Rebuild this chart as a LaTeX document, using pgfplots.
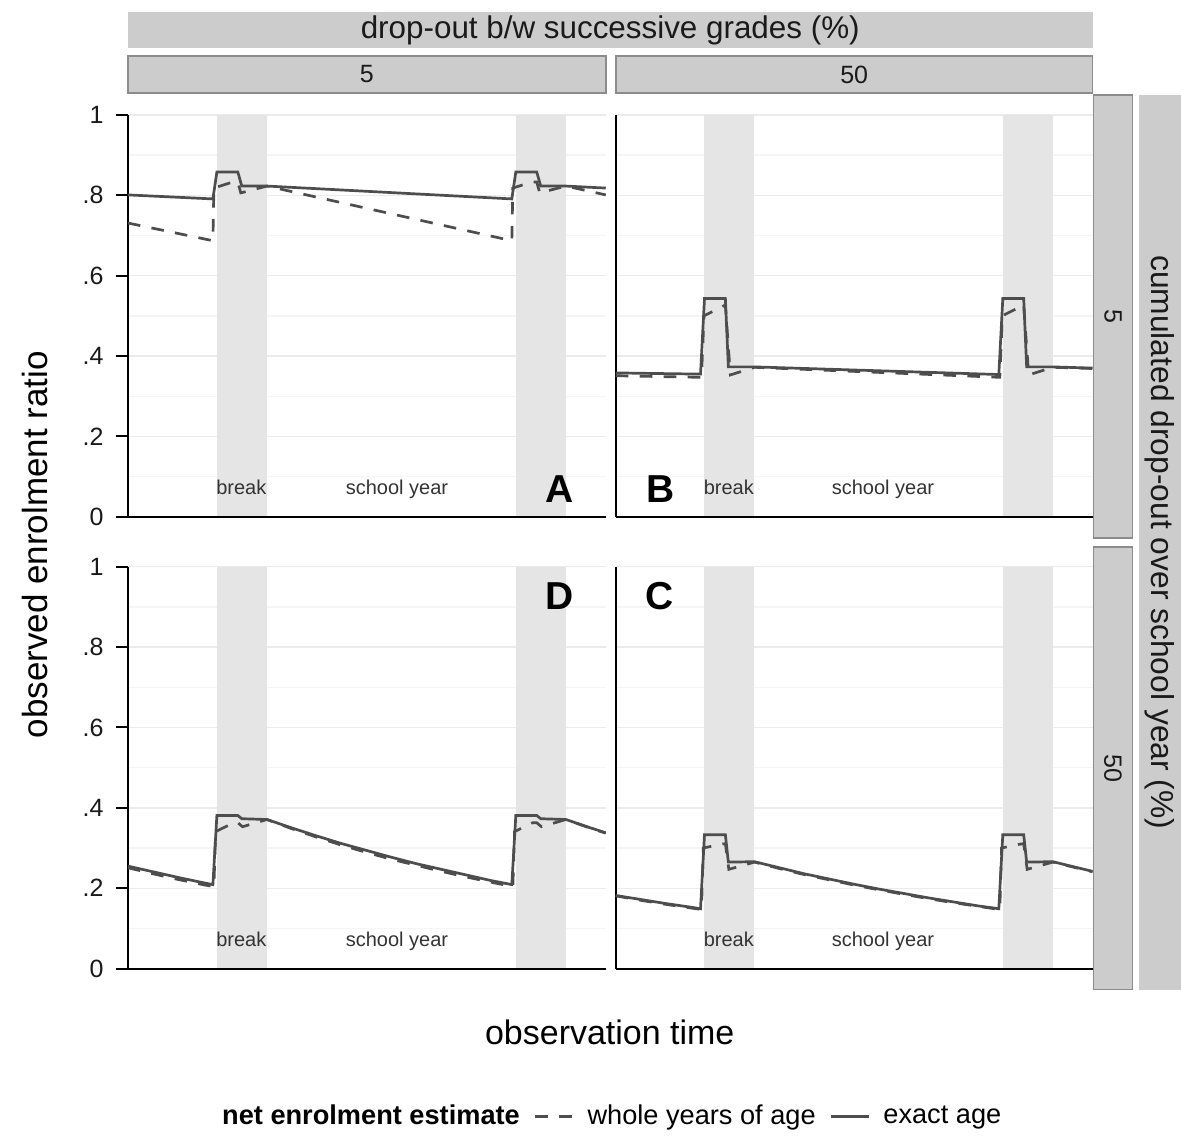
\documentclass[border=0pt]{standalone}
\usepackage{pgfplots}
\pgfplotsset{compat=1.18}
\usepackage{fontspec}
\setmainfont{Liberation Sans}
\definecolor{linec}{HTML}{4D4D4D}
\definecolor{bandc}{HTML}{E5E5E5}
\definecolor{stripc}{HTML}{CCCCCC}
\definecolor{stripb}{HTML}{8C8C8C}
\definecolor{gridmaj}{HTML}{EBEBEB}
\definecolor{gridmin}{HTML}{F5F5F5}
\definecolor{txtc}{HTML}{333333}
\definecolor{titc}{HTML}{1A1A1A}
\tikzset{
  intext/.style={font=\fontsize{10}{12}\selectfont, text=txtc, anchor=base},
  letter/.style={font=\fontsize{19.5}{20}\selectfont\bfseries, text=black, anchor=base},
}
\pgfplotsset{
  panel/.style={
    scale only axis, width=239pt, height=201pt,
    anchor=south west,
    xmin=0, xmax=19.18, ymin=0, ymax=1,
    axis x line*=bottom, axis y line*=left,
    axis line style={line width=1pt, black, -},
    xtick=\empty,
    ytick={0,0.2,0.4,0.6,0.8,1},
    minor ytick={0.1,0.3,0.5,0.7,0.9},
    ymajorgrids, yminorgrids,
    major grid style={color=gridmaj, line width=0.7pt},
    minor grid style={color=gridmin, line width=0.7pt},
    tick align=outside,
    major tick length=6pt, minor tick length=0pt,
    tick style={line width=1pt, black},
    yticklabel style={font=\fontsize{12.5}{14}\selectfont, text=black!90, inner sep=0pt, xshift=-6pt},
  },
  leftpanel/.style={panel, yticklabels={0,.2,.4,.6,.8,1}},
  rightpanel/.style={panel, yticklabels={}, major tick length=0pt},
  band/.style={fill=bandc, draw=none, forget plot},
  dline/.style={color=linec, line width=1.35pt, dash pattern=on 6.3pt off 5.7pt},
  sline/.style={color=linec, line width=1.35pt},
}
\begin{document}
\begin{tikzpicture}
\path (0pt,0pt) rectangle (590.5pt,570pt);

% ---------- Panel A (top-left) ----------
\begin{axis}[leftpanel, at={(64pt,311.5pt)}]
\addplot[band] coordinates {(3.57,0.0025) (3.57,1) (5.58,1) (5.58,0.0025)} -- cycle;
\addplot[band] coordinates {(15.57,0.0025) (15.57,1) (17.58,1) (17.58,0.0025)} -- cycle;
\addplot[dline] coordinates {(0,0.731) (3.41,0.687) (3.45,0.818) (4.20,0.833) (4.41,0.833) (4.53,0.806) (5.58,0.823) (15.41,0.687) (15.45,0.818) (16.20,0.833) (16.41,0.833) (16.53,0.806) (17.58,0.823) (19.18,0.801)};
\addplot[sline] coordinates {(0,0.801) (3.41,0.791) (3.57,0.858) (4.41,0.858) (4.57,0.823) (5.58,0.823) (15.41,0.791) (15.57,0.858) (16.41,0.858) (16.57,0.823) (17.58,0.823) (19.18,0.818)};
\node[intext] at (axis cs:4.55,0.055) {break};
\node[intext] at (axis cs:10.8,0.055) {school year};
\node[letter] at (axis cs:17.34,0.035) {A};
\end{axis}

% ---------- Panel B (top-right) ----------
\begin{axis}[rightpanel, at={(308pt,311.5pt)}, width=238.5pt]
\addplot[band] coordinates {(3.57,0.0025) (3.57,1) (5.58,1) (5.58,0.0025)} -- cycle;
\addplot[band] coordinates {(15.57,0.0025) (15.57,1) (17.58,1) (17.58,0.0025)} -- cycle;
\addplot[dline] coordinates {(0,0.351) (3.45,0.347) (3.55,0.500) (4.41,0.527) (4.61,0.353) (5.58,0.372) (15.45,0.347) (15.55,0.500) (16.41,0.527) (16.61,0.353) (17.58,0.372) (19.18,0.369)};
\addplot[sline] coordinates {(0,0.358) (3.41,0.355) (3.57,0.543) (4.41,0.543) (4.53,0.373) (5.58,0.373) (15.41,0.354) (15.57,0.543) (16.41,0.543) (16.53,0.373) (17.58,0.373) (19.18,0.370)};
\node[intext] at (axis cs:4.55,0.055) {break};
\node[intext] at (axis cs:10.75,0.055) {school year};
\node[letter] at (axis cs:1.81,0.035) {B};
\end{axis}

% ---------- Panel D (bottom-left) ----------
\begin{axis}[leftpanel, at={(64pt,85.5pt)}]
\addplot[band] coordinates {(3.57,0.0025) (3.57,1) (5.58,1) (5.58,0.0025)} -- cycle;
\addplot[band] coordinates {(15.57,0.0025) (15.57,1) (17.58,1) (17.58,0.0025)} -- cycle;
\addplot[dline] coordinates {(0,0.251) (1,0.236) (2,0.222) (3,0.209) (3.45,0.204) (3.52,0.341) (4.25,0.363) (4.41,0.363) (4.60,0.353) (5.58,0.371) (6.58,0.348) (7.58,0.327) (8.58,0.307) (9.58,0.289) (10.58,0.272) (11.58,0.257) (12.58,0.242) (13.58,0.228) (14.58,0.215) (15.45,0.204) (15.52,0.341) (16.25,0.363) (16.41,0.363) (16.60,0.353) (17.58,0.371) (18.58,0.349) (19.18,0.337)};
\addplot[sline] coordinates {(0,0.255) (1,0.241) (2,0.227) (3,0.214) (3.41,0.209) (3.57,0.381) (4.41,0.381) (4.57,0.373) (5.58,0.371) (6.58,0.350) (7.58,0.330) (8.58,0.311) (9.58,0.294) (10.58,0.277) (11.58,0.261) (12.58,0.247) (13.58,0.233) (14.58,0.219) (15.41,0.209) (15.57,0.381) (16.41,0.381) (16.57,0.373) (17.58,0.371) (18.58,0.350) (19.18,0.338)};
\node[intext] at (axis cs:4.55,0.055) {break};
\node[intext] at (axis cs:10.8,0.055) {school year};
\node[letter] at (axis cs:17.34,0.893) {D};
\end{axis}

% ---------- Panel C (bottom-right) ----------
\begin{axis}[rightpanel, at={(308pt,85.5pt)}, width=238.5pt,
  legend columns=-1,
  legend style={at={(-0.022,-0.368)}, anchor=center, draw=none, fill=none,
    font=\fontsize{13.6}{16}\selectfont, inner sep=0pt,
    nodes={inner sep=0pt, text depth=0.15em},
    /tikz/every odd column/.append style={column sep=6.5pt},
    /tikz/every even column/.append style={column sep=7pt}},
  legend image code/.code={\draw[#1] (0pt,0pt) -- (19pt,0pt);}]
\addplot[band] coordinates {(3.57,0.0025) (3.57,1) (5.58,1) (5.58,0.0025)} -- cycle;
\addplot[band] coordinates {(15.57,0.0025) (15.57,1) (17.58,1) (17.58,0.0025)} -- cycle;
\addlegendimage{empty legend}
\addlegendentry{\textbf{net enrolment estimate}}
\addplot[dline] coordinates {(0,0.181) (1,0.170) (2,0.160) (3,0.151) (3.45,0.147) (3.52,0.300) (4.20,0.309) (4.41,0.311) (4.55,0.247) (5.58,0.265) (6.58,0.249) (7.58,0.234) (8.58,0.221) (9.58,0.208) (10.58,0.196) (11.58,0.185) (12.58,0.174) (13.58,0.164) (14.58,0.155) (15.45,0.147) (15.52,0.300) (16.20,0.309) (16.41,0.311) (16.55,0.247) (17.58,0.265) (18.58,0.250) (19.18,0.241)};
\addlegendentry{whole years of age}
\addplot[sline] coordinates {(0,0.182) (1,0.172) (2,0.162) (3,0.153) (3.41,0.149) (3.57,0.333) (4.41,0.333) (4.53,0.265) (5.58,0.266) (6.58,0.251) (7.58,0.236) (8.58,0.223) (9.58,0.210) (10.58,0.198) (11.58,0.187) (12.58,0.176) (13.58,0.166) (14.58,0.156) (15.41,0.149) (15.57,0.333) (16.41,0.333) (16.53,0.265) (17.58,0.266) (18.58,0.251) (19.18,0.242)};
\addlegendentry{exact age}
\node[intext] at (axis cs:4.55,0.055) {break};
\node[intext] at (axis cs:10.75,0.055) {school year};
\node[letter] at (axis cs:1.77,0.893) {C};
\end{axis}

% ---------- strips ----------
\fill[stripc] (64pt,546pt) rectangle (546.5pt,564pt);
\node[font=\fontsize{15.7}{18}\selectfont, text=titc] at (305.25pt,555pt) {drop-out b/w successive grades (\%)};
\filldraw[fill=stripc, draw=stripb, line width=0.8pt] (64pt,523.5pt) rectangle (303pt,542pt);
\filldraw[fill=stripc, draw=stripb, line width=0.8pt] (308pt,523.5pt) rectangle (546.5pt,542pt);
\node[font=\fontsize{12.5}{15}\selectfont, text=titc] at (183.5pt,532.75pt) {5};
\node[font=\fontsize{12.5}{15}\selectfont, text=titc] at (427.25pt,532.75pt) {50};
\filldraw[fill=stripc, draw=stripb, line width=0.8pt] (547pt,301pt) rectangle (566.5pt,522.5pt);
\filldraw[fill=stripc, draw=stripb, line width=0.8pt] (547pt,75pt) rectangle (566.5pt,296.5pt);
\node[font=\fontsize{12.5}{15}\selectfont, text=titc, rotate=-90] at (556.75pt,411.75pt) {5};
\node[font=\fontsize{12.5}{15}\selectfont, text=titc, rotate=-90] at (556.75pt,185.75pt) {50};
\fill[stripc] (569.5pt,75pt) rectangle (590.5pt,522.5pt);
\node[font=\fontsize{15.9}{18}\selectfont, text=titc, rotate=-90] at (580pt,298.75pt) {cumulated drop-out over school year (\%)};

% ---------- axis titles ----------
\node[font=\fontsize{17.5}{20}\selectfont, rotate=90] at (17.5pt,297.5pt) {observed enrolment ratio};
\node[font=\fontsize{17}{20}\selectfont] at (305pt,53.5pt) {observation time};
\end{tikzpicture}
\end{document}
